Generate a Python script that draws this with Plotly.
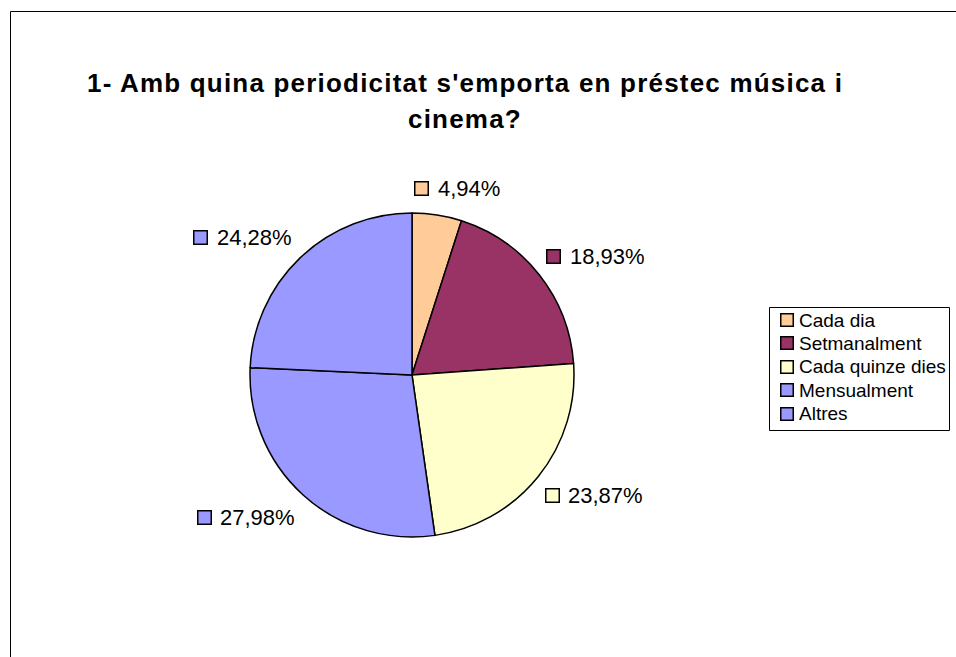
import math
import plotly.graph_objects as go

categories = ["Cada dia", "Setmanalment", "Cada quinze dies", "Mensualment", "Altres"]
values = [4.94, 18.93, 23.87, 27.98, 24.28]
label_texts = ["4,94%", "18,93%", "23,87%", "27,98%", "24,28%"]
colors = ["#FFCC99", "#993366", "#FFFFCC", "#9999FF", "#9999FF"]
title_lines = ["1- Amb quina periodicitat s'emporta en préstec música i", "cinema?"]

W, H = 956, 657
CX, CY, R = 412, 375, 162
FONT = "Liberation Sans, Arial, sans-serif"


def px(x):
    return x / W


def py(y):
    return 1 - y / H


def swatch(x, y, color, size=10):
    return dict(text=" ", x=px(x), y=py(y), xref="paper", yref="paper",
                xanchor="center", yanchor="middle", showarrow=False,
                width=size, height=size, bgcolor=color, bordercolor="#000000",
                borderwidth=1.5, borderpad=0, font=dict(size=6))


fig = go.Figure()
fig.add_trace(go.Pie(
    labels=categories,
    values=values,
    sort=False,
    direction="clockwise",
    rotation=0,
    textinfo="none",
    hoverinfo="label+percent",
    marker=dict(colors=colors, line=dict(color="#000000", width=1.5)),
    domain=dict(x=[px(CX - R), px(CX + R)], y=[py(CY + R), py(CY - R)]),
    showlegend=False,
))

annotations = []
# title
for txt, yy in zip(title_lines, [83, 119]):
    annotations.append(dict(text="<b><span style='letter-spacing:1.2px'>" + txt + "</span></b>",
                            x=px(465), y=py(yy), xref="paper", yref="paper",
                            xanchor="center", yanchor="middle", showarrow=False,
                            font=dict(family=FONT, size=26, color="#000000")))

# data labels positioned from slice mid-angles
total = sum(values)
cum = 0.0
RX, A, K = 147, 79, 192
GW = 100
for v, t, c in zip(values, label_texts, colors):
    mid = (cum + v / 2) / total * 2 * math.pi
    cum += v
    s, co = math.sin(mid), math.cos(mid)
    gx = CX + RX * s + A * math.copysign(math.sqrt(abs(s)), s)
    gy = CY - K * co + 3 * max(co, 0) ** 4
    left = gx - GW / 2
    annotations.append(swatch(left + 6, gy, c, 12))
    annotations.append(dict(text=t, x=px(left + 20), y=py(gy), xref="paper", yref="paper",
                            xanchor="left", yanchor="middle", showarrow=False,
                            font=dict(family=FONT, size=22, color="#000000")))

# legend (drawn from categories / colors)
LEG_X0, LEG_X1, LEG_Y0, LEG_Y1 = 769.5, 949.5, 307.5, 430.5
for i, (cat, c) in enumerate(zip(categories, colors)):
    yy = 320 + 23.4 * i
    annotations.append(swatch(787, yy, c, 11))
    annotations.append(dict(text=cat, x=px(797), y=py(yy), xref="paper", yref="paper",
                            xanchor="left", yanchor="middle", showarrow=False,
                            font=dict(family=FONT, size=19, color="#000000")))

fig.update_layout(
    width=W, height=H,
    margin=dict(l=0, r=0, t=0, b=0),
    paper_bgcolor="#FFFFFF",
    plot_bgcolor="#FFFFFF",
    annotations=annotations,
    showlegend=False,
    shapes=[
        dict(type="rect", xref="paper", yref="paper",
             x0=px(10.5), x1=1.05, y0=-0.05, y1=py(11.5),
             line=dict(color="#000000", width=1)),
        dict(type="rect", xref="paper", yref="paper",
             x0=px(LEG_X0), x1=px(LEG_X1), y0=py(LEG_Y1), y1=py(LEG_Y0),
             line=dict(color="#000000", width=1), layer="below"),
    ],
)

fig.write_html("out.html", config={"displayModeBar": False},
               post_script="document.body.style.margin='0';document.body.style.overflow='hidden';")
